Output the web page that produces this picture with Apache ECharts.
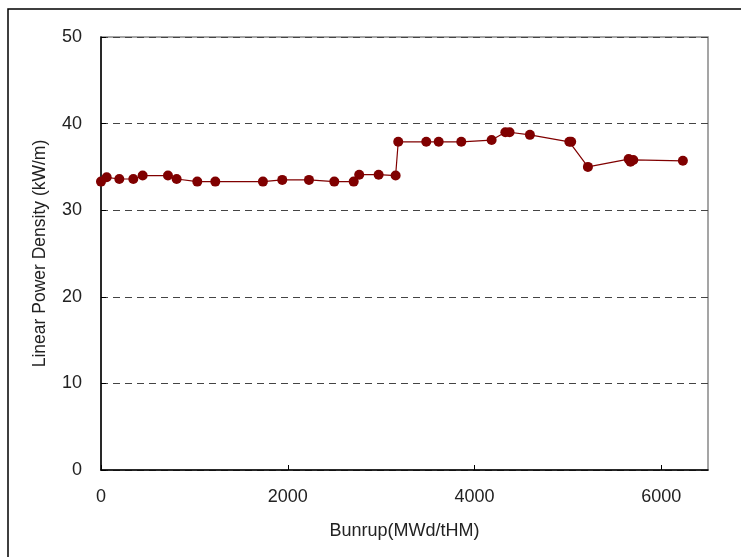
<!DOCTYPE html>
<html><head><meta charset="utf-8">
<script src="https://cdn.jsdelivr.net/npm/echarts@6/dist/echarts.min.js"></script>
<style>html,body{margin:0;padding:0;background:#fff}#c{width:741px;height:557px}</style>
</head><body><div id="c"></div>
<script>
var burnup = [0, 61, 196, 346, 446, 717, 810, 1031, 1224, 1734, 1941, 2227, 2498, 2706, 2765, 2973, 3155, 3183, 3483, 3616, 3858, 4183, 4330, 4375, 4593, 5015, 5035, 5214, 5650, 5670, 5700, 6231];
var lpd = [33.3, 33.8, 33.6, 33.6, 34.0, 34.0, 33.6, 33.3, 33.3, 33.3, 33.5, 33.5, 33.3, 33.3, 34.1, 34.1, 34.0, 37.9, 37.9, 37.9, 37.9, 38.1, 39.0, 39.0, 38.7, 37.9, 37.9, 35.0, 35.9, 35.6, 35.8, 35.7];
var xTitle = 'Bunrup(MWd/tHM)';
var yTitle = 'Linear Power Density (kW/m)';

var pts = burnup.map(function(v,i){return [v, lpd[i]];});
var font = 'Liberation Sans, Arial, sans-serif';
var chart = echarts.init(document.getElementById('c'));
chart.setOption({
  animation:false,
  backgroundColor:'#fff',
  graphic:[{type:'rect',shape:{x:8,y:9,width:800,height:600},style:{fill:'none',stroke:'#000',lineWidth:1.5},z:-1}],
  grid:{left:101,top:37,right:33,bottom:87,show:true,borderColor:'#888',borderWidth:1.5,backgroundColor:'transparent'},
  xAxis:{type:'value',min:0,max:6500,interval:2000,
    name:xTitle,nameLocation:'middle',nameGap:52,
    nameTextStyle:{fontFamily:font,fontSize:18,color:'#222'},
    axisLine:{show:true,lineStyle:{color:'#000',width:1.5}},
    axisTick:{show:true,inside:true,length:5,lineStyle:{color:'#000'}},
    axisLabel:{fontFamily:font,fontSize:18,color:'#222',margin:18,showMaxLabel:false,
      formatter:function(v){return String(v);}},
    splitLine:{show:false}},
  yAxis:{type:'value',min:0,max:50,interval:10,
    name:yTitle,nameLocation:'middle',nameGap:52,
    nameTextStyle:{fontFamily:font,fontSize:17.5,color:'#222'},
    axisLine:{show:true,lineStyle:{color:'#000',width:1.5}},
    axisTick:{show:true,inside:true,length:5,lineStyle:{color:'#000'}},
    axisLabel:{fontFamily:font,fontSize:18,color:'#222',margin:19},
    splitLine:{show:true,lineStyle:{color:'#444',type:[7,5],width:1}}},
  series:[{type:'line',data:pts,symbol:'circle',symbolSize:10,
    itemStyle:{color:'#800000'},lineStyle:{color:'#800000',width:1.2}}]
});
</script></body></html>
